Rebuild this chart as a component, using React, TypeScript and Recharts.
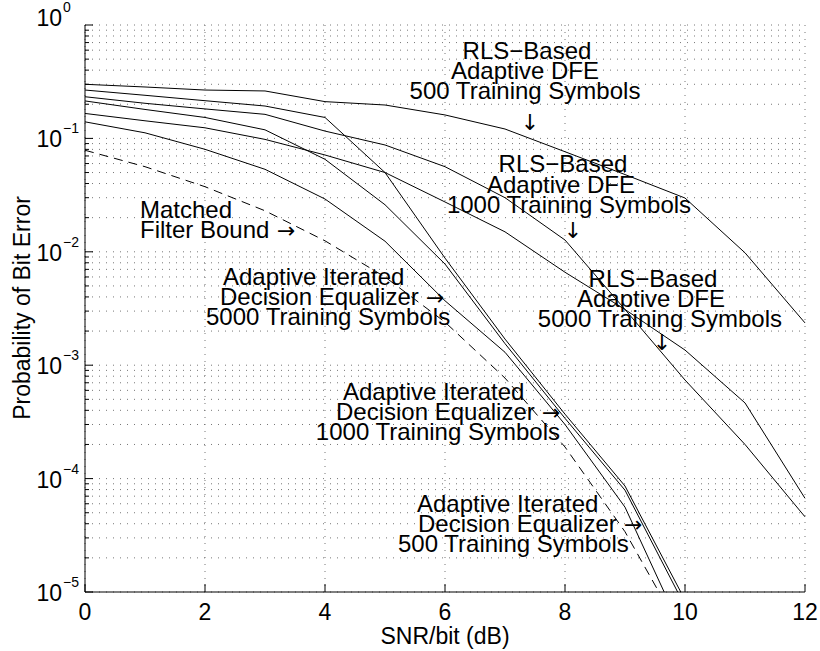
import React from 'react'
import { LineChart, Line, XAxis, YAxis, CartesianGrid } from 'recharts'

// SNR/bit (dB) sample points
const snr = [0, 1, 2, 3, 4, 5, 6, 7, 8, 9, 10, 11, 12]

// RLS-based adaptive DFE curves
const rls500 = [0.3, 0.284, 0.267, 0.262, 0.211, 0.197, 0.161, 0.121, 0.0763, 0.048, 0.0298, 0.0098, 0.00236]
const rls1000 = [0.233, 0.204, 0.182, 0.163, 0.116, 0.0875, 0.0563, 0.03, 0.0127, 0.0031, 0.00074, 0.0002, 0.000046]
const rls5000 = [0.166, 0.143, 0.124, 0.098, 0.0714, 0.05, 0.0275, 0.015, 0.0066, 0.0031, 0.00136, 0.000465, 0.000067]

// adaptive iterated decision equalizer curves
const aide500 = [0.267, 0.24, 0.215, 0.193, 0.153, 0.05, 0.0088, 0.0017, 0.00037, 0.000086, 0.0000085]
const aide1000 = [0.214, 0.18, 0.153, 0.119, 0.0654, 0.026, 0.0078, 0.00155, 0.00034, 0.000079, 0.0000075]
const aide5000 = [0.14, 0.112, 0.0801, 0.0534, 0.0292, 0.0124, 0.0037, 0.0013, 0.0003, 0.000056, 0.000004]

// matched filter bound
const mfb = [0.0786, 0.0563, 0.0375, 0.023, 0.0125, 0.006, 0.0024, 0.00077, 0.00019, 0.000034, 0.0000039]

const xTicks = [0, 2, 4, 6, 8, 10, 12]
const decades = [-5, -4, -3, -2, -1]

const yTicks: number[] = []
decades.forEach((e) => {
  for (let m = 1; m <= 9; m++) yTicks.push(Number((m * 10 ** e).toPrecision(3)))
})
yTicks.push(1)

const rows = snr.map((s, i) => ({
  snr: s,
  rls500: rls500[i],
  rls1000: rls1000[i],
  rls5000: rls5000[i],
  aide500: aide500[i],
  aide1000: aide1000[i],
  aide5000: aide5000[i],
  mfb: mfb[i],
}))

const L = 85
const R = 805
const T = 25
const B = 592
const FONT = '"Liberation Sans", Arial, Helvetica, sans-serif'

const isDecade = (v: number) => {
  const e = Math.round(Math.log10(v))
  return Math.abs(v / 10 ** e - 1) < 1e-6
}

const LeftTick = (props: any) => {
  const { y, payload } = props
  const v = payload.value
  const major = isDecade(v)
  const e = Math.round(Math.log10(v))
  // the top label sits a little higher, as in the original
  const dy = e === 0 ? 1 : 9
  return (
    <g>
      <line x1={L} x2={L + (major ? 8 : 4)} y1={y} y2={y} stroke="#000" />
      {major && (
        <>
          <text x={62} y={y + dy} textAnchor="end" fontSize={23} fontFamily={FONT} fill="#000">10</text>
          <text x={63} y={y + dy - 14} fontSize={14} fontFamily={FONT} fill="#000">{e === 0 ? '0' : '\u2212' + -e}</text>
        </>
      )}
    </g>
  )
}

const RightTick = (props: any) => {
  const { y, payload } = props
  const major = isDecade(payload.value)
  return <line x1={R} x2={R - (major ? 8 : 4)} y1={y} y2={y} stroke="#000" />
}

const BottomTick = (props: any) => {
  const { x, payload } = props
  return (
    <g>
      <line x1={x} x2={x} y1={B} y2={B - 8} stroke="#000" />
      <text x={x} y={B + 28} textAnchor="middle" fontSize={23} fontFamily={FONT} fill="#000">{payload.value}</text>
    </g>
  )
}

const TopTick = (props: any) => {
  const { x } = props
  return <line x1={x} x2={x} y1={T} y2={T + 8} stroke="#000" />
}

type Note = { t: string; x: number; y: number; a?: 'start' | 'middle' | 'end' }

const notes: Note[] = [
  { t: 'RLS\u2212Based', x: 527, y: 59, a: 'middle' },
  { t: 'Adaptive DFE', x: 525, y: 79, a: 'middle' },
  { t: '500 Training Symbols', x: 525, y: 99, a: 'middle' },
  { t: 'RLS\u2212Based', x: 563, y: 172, a: 'middle' },
  { t: 'Adaptive DFE', x: 561, y: 193, a: 'middle' },
  { t: '1000 Training Symbols', x: 569, y: 213, a: 'middle' },
  { t: 'RLS\u2212Based', x: 653, y: 287, a: 'middle' },
  { t: 'Adaptive DFE', x: 651, y: 307, a: 'middle' },
  { t: '5000 Training Symbols', x: 782, y: 327, a: 'end' },
  { t: 'Matched', x: 140, y: 218 },
  { t: 'Filter Bound', x: 140, y: 238 },
  { t: 'Adaptive Iterated', x: 223, y: 285 },
  { t: 'Decision Equalizer', x: 220, y: 305 },
  { t: '5000 Training Symbols', x: 206, y: 325 },
  { t: 'Adaptive Iterated', x: 343, y: 400 },
  { t: 'Decision Equalizer', x: 336, y: 420 },
  { t: '1000 Training Symbols', x: 560, y: 440, a: 'end' },
  { t: 'Adaptive Iterated', x: 417, y: 512 },
  { t: 'Decision Equalizer', x: 418, y: 532 },
  { t: '500 Training Symbols', x: 398, y: 552 },
]

const rightArrows = [
  { x: 277, y: 238 },
  { x: 426, y: 305 },
  { x: 542, y: 420 },
  { x: 624, y: 532 },
]

const downArrows = [
  { x: 530, y: 130 },
  { x: 573, y: 238 },
  { x: 662, y: 350 },
]

export default function App() {
  return (
    <div style={{ position: 'absolute', left: 0, top: 0, width: 820, height: 651, background: '#fff' }}>
      <LineChart width={820} height={651} data={rows} margin={{ top: T, right: 820 - R, bottom: 0, left: 0 }}>
        <CartesianGrid xAxisId="b" yAxisId="l" stroke="#777" strokeDasharray="1 6" />
        <XAxis
          xAxisId="b"
          dataKey="snr"
          type="number"
          domain={[0, 12]}
          ticks={xTicks}
          interval={0}
          height={651 - B}
          axisLine={{ stroke: '#000' }}
          tickLine={false}
          tick={<BottomTick />}
        />
        <XAxis
          xAxisId="t"
          orientation="top"
          dataKey="snr"
          type="number"
          domain={[0, 12]}
          ticks={xTicks}
          interval={0}
          height={0}
          axisLine={{ stroke: '#000' }}
          tickLine={false}
          tick={<TopTick />}
        />
        <YAxis
          yAxisId="l"
          scale="log"
          domain={[1e-5, 1]}
          allowDataOverflow
          ticks={yTicks}
          interval={0}
          width={L}
          axisLine={{ stroke: '#000' }}
          tickLine={false}
          tick={<LeftTick />}
        />
        <YAxis
          yAxisId="r"
          orientation="right"
          scale="log"
          domain={[1e-5, 1]}
          allowDataOverflow
          ticks={yTicks}
          interval={0}
          width={0}
          axisLine={{ stroke: '#000' }}
          tickLine={false}
          tick={<RightTick />}
        />
        {['rls500', 'rls1000', 'rls5000', 'aide500', 'aide1000', 'aide5000'].map((k) => (
          <Line
            key={k}
            xAxisId="b"
            yAxisId="l"
            type="linear"
            dataKey={k}
            stroke="#000"
            strokeWidth={1}
            dot={false}
            isAnimationActive={false}
          />
        ))}
        <Line
          xAxisId="b"
          yAxisId="l"
          type="linear"
          dataKey="mfb"
          stroke="#000"
          strokeWidth={1}
          strokeDasharray="9 6"
          dot={false}
          isAnimationActive={false}
        />
      </LineChart>
      <svg width={820} height={651} style={{ position: 'absolute', left: 0, top: 0, pointerEvents: 'none' }}>
        {notes.map((n, i) => (
          <text key={i} x={n.x} y={n.y} textAnchor={n.a || 'start'} fontSize={24} fontFamily={FONT} fill="#000">
            {n.t}
          </text>
        ))}
        {rightArrows.map((a, i) => (
          <text key={'r' + i} x={a.x} y={a.y} fontSize={22} fontFamily='"DejaVu Sans", sans-serif' fill="#000">
            {'\u2192'}
          </text>
        ))}
        {downArrows.map((a, i) => (
          <text key={'d' + i} x={a.x} y={a.y} textAnchor="middle" fontSize={22} fontFamily='"DejaVu Sans", sans-serif' fill="#000">
            {'\u2193'}
          </text>
        ))}
        <text x={445} y={644} textAnchor="middle" fontSize={23} fontFamily={FONT} fill="#000">SNR/bit (dB)</text>
        <text x={22} y={308} transform="rotate(-90 22 308)" textAnchor="middle" dominantBaseline="central" fontSize={23} fontFamily={FONT} fill="#000">
          Probability of Bit Error
        </text>
      </svg>
    </div>
  )
}
